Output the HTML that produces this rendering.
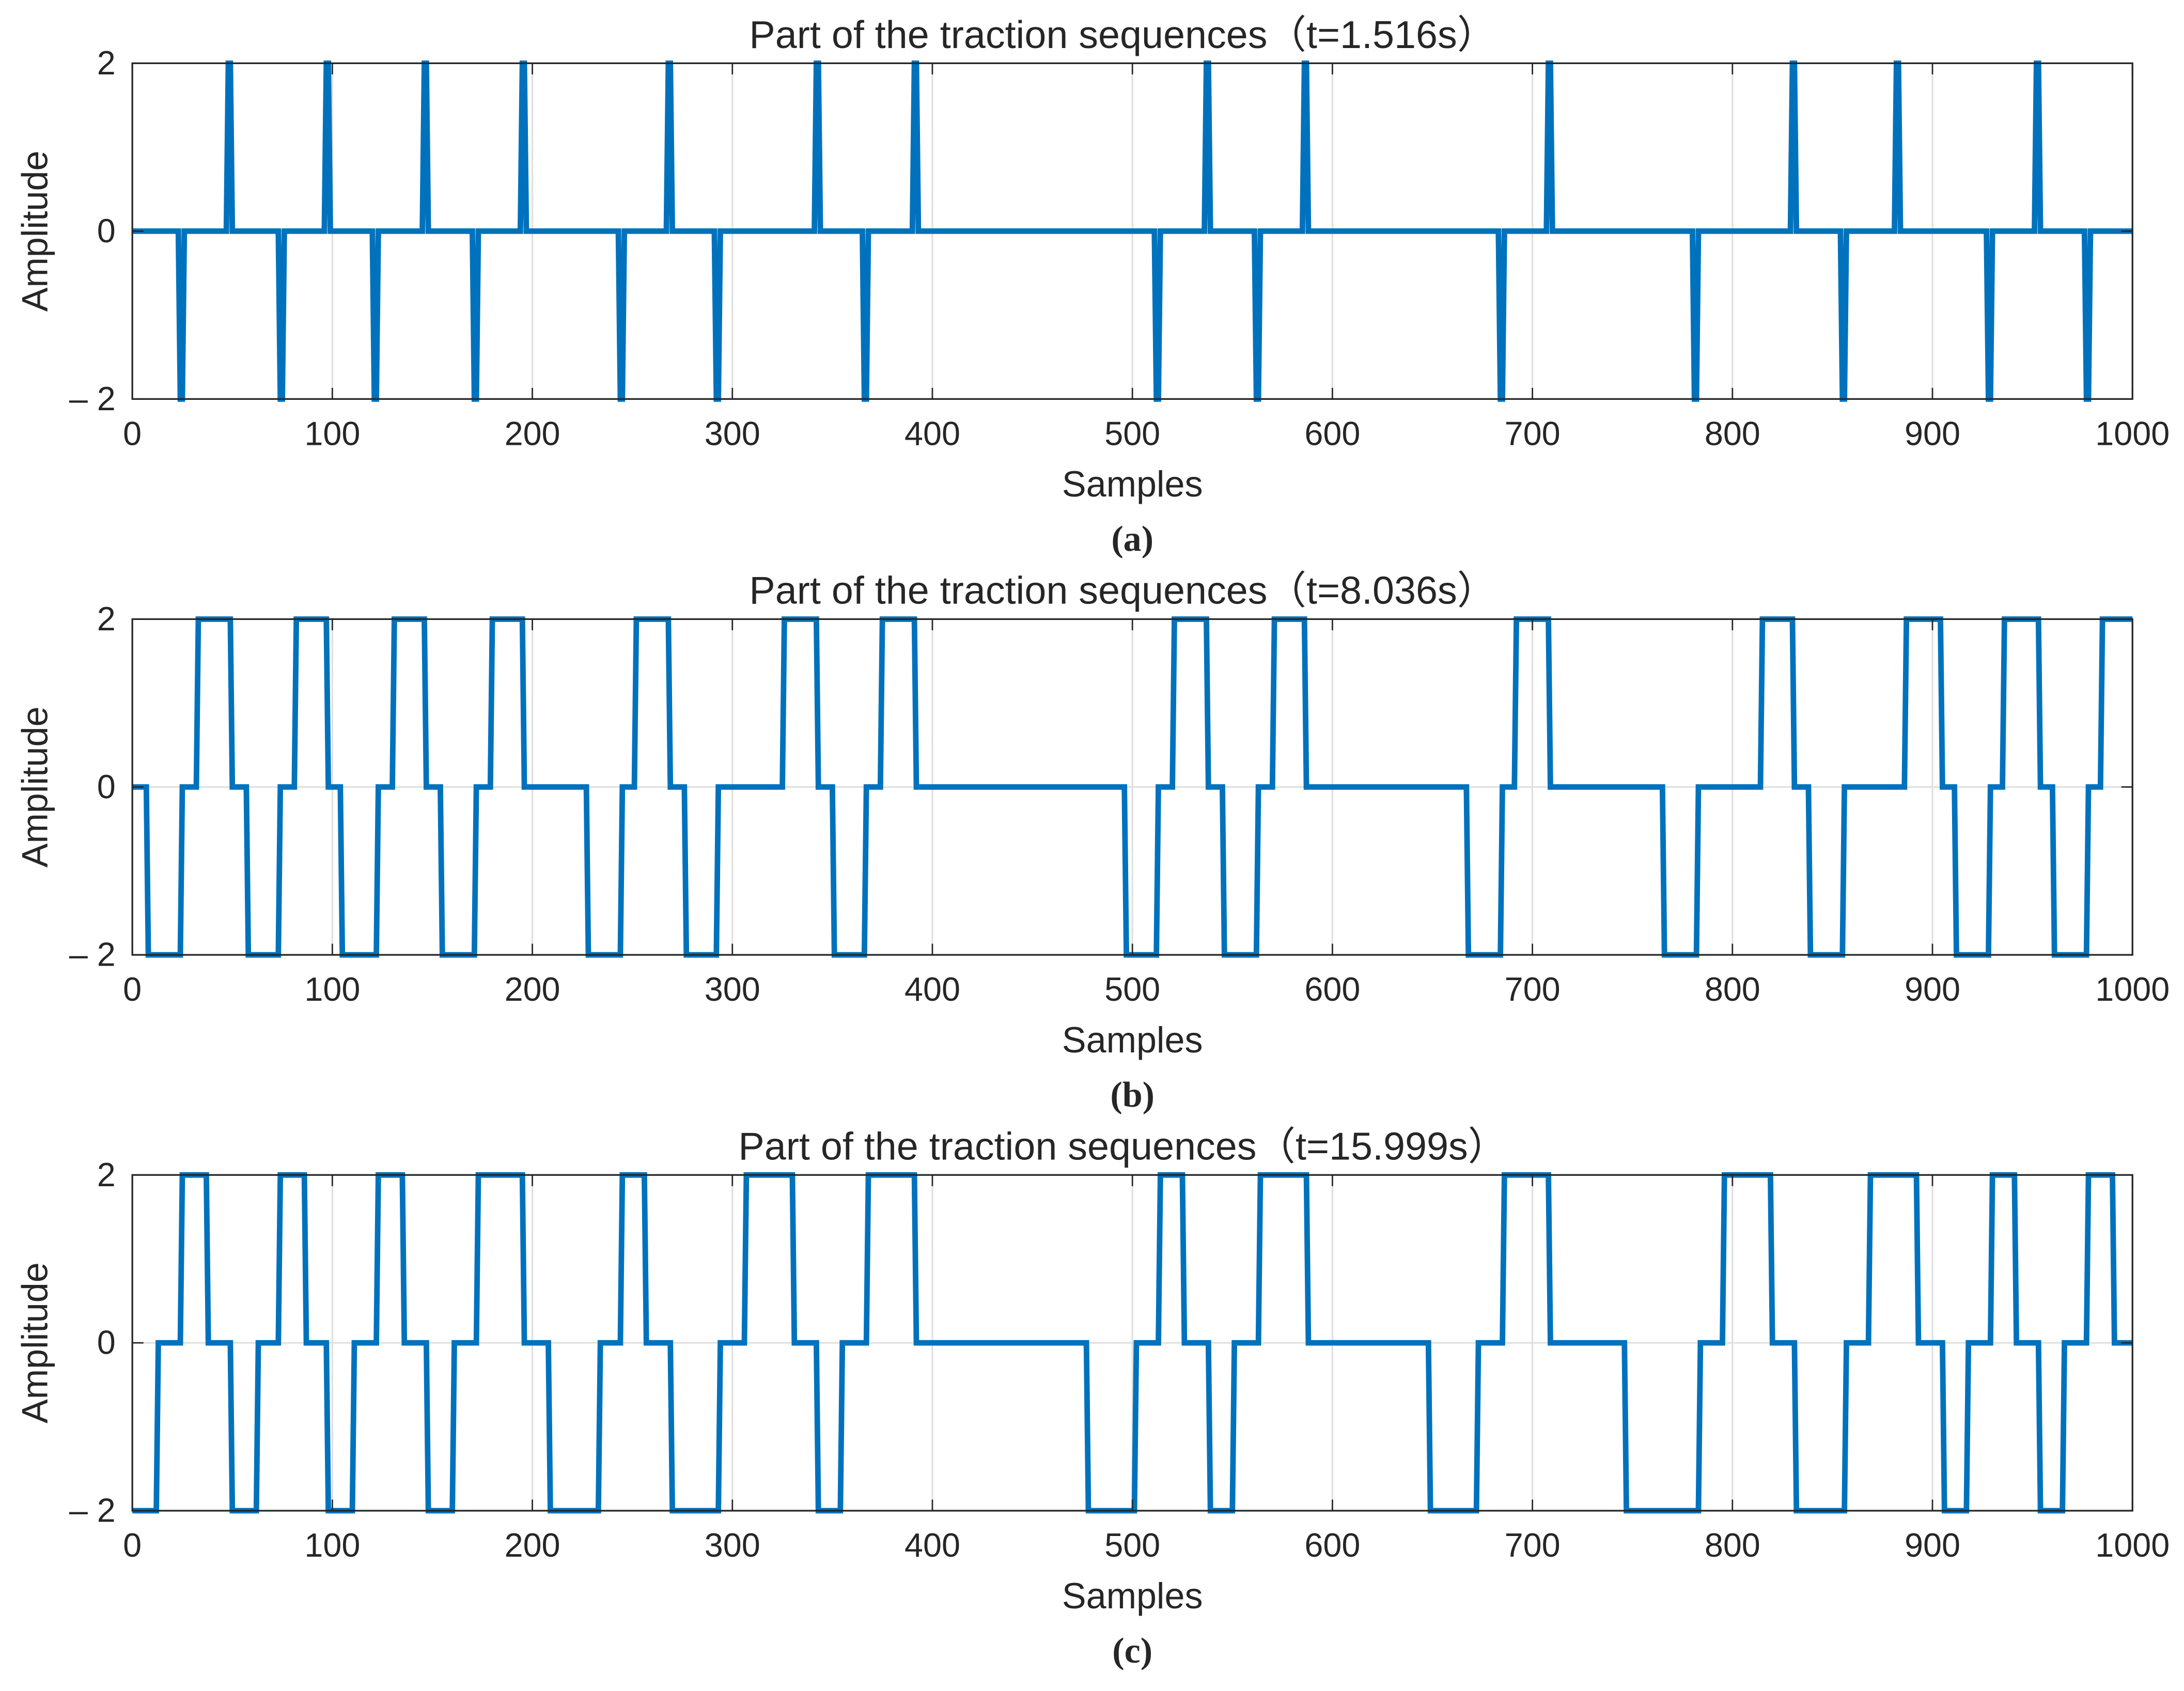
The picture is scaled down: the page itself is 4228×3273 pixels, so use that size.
<!DOCTYPE html>
<html><head><meta charset="utf-8"><style>
html,body{margin:0;padding:0;background:#fff;}
svg{display:block;}
text{fill:#262626;}
</style></head><body>
<svg id="chart" xmlns="http://www.w3.org/2000/svg" width="4228" height="3273" viewBox="0 0 1568 1213"></svg>
<script>
// Panel (a): spike sample positions
const spikeUpA = [48, 97, 146, 195, 268, 342, 391, 537, 586, 708, 830, 882, 952];
const spikeDownA = [24, 74, 121, 171, 244, 292, 366, 512, 562, 684, 781, 855, 928, 977];
// Panel (b): level change samples and levels
const changesB = [0, 7, 24, 32, 49, 57, 73, 81, 97, 104, 122, 130, 146, 154, 171, 179, 195, 227, 244, 251, 268, 276, 292, 325, 342, 350, 366, 374, 391, 496, 512, 520, 537, 545, 562, 570, 586, 667, 684, 691, 708, 765, 782, 814, 830, 838, 855, 886, 904, 911, 928, 935, 953, 960, 977, 984];
const levelsB  = [0, -2, 0, 2, 0, -2, 0, 2, 0, -2, 0, 2, 0, -2, 0, 2, 0, -2, 0, 2, 0, -2, 0, 2, 0, -2, 0, 2, 0, -2, 0, 2, 0, -2, 0, 2, 0, -2, 0, 2, 0, -2, 0, 2, 0, -2, 0, 2, 0, -2, 0, 2, 0, -2, 0, 2];
// Panel (c)
const changesC = [0, 12, 24, 37, 49, 62, 73, 86, 97, 110, 122, 135, 147, 160, 172, 195, 208, 233, 244, 256, 269, 293, 306, 330, 342, 354, 367, 391, 477, 501, 513, 525, 538, 550, 563, 587, 648, 672, 685, 708, 746, 783, 795, 819, 831, 856, 868, 892, 905, 917, 929, 941, 953, 965, 977, 990];
const levelsC  = [-2, 0, 2, 0, -2, 0, 2, 0, -2, 0, 2, 0, -2, 0, 2, 0, -2, 0, 2, 0, -2, 0, 2, 0, -2, 0, 2, 0, -2, 0, 2, 0, -2, 0, 2, 0, -2, 0, 2, 0, -2, 0, 2, 0, -2, 0, 2, 0, -2, 0, 2, 0, -2, 0, 2, 0];
const xTicks = [0,100,200,300,400,500,600,700,800,900,1000];
const yTicks = [-2,0,2];
const titles = ["Part of the traction sequences\uFF08t=1.516s\uFF09","Part of the traction sequences\uFF08t=8.036s\uFF09","Part of the traction sequences\uFF08t=15.999s\uFF09"];
const captions = ["(a)","(b)","(c)"];

const NS="http://www.w3.org/2000/svg";
const svg=document.getElementById('chart');
const SANS='font-family:"Liberation Sans","Noto Sans CJK SC",sans-serif;';
function mk(tag,attrs,parent){const e=document.createElementNS(NS,tag);for(const k in attrs)e.setAttribute(k,attrs[k]);(parent||svg).appendChild(e);return e;}

function spikesToSteps(up,down){
  const ev=[];up.forEach(s=>ev.push([s,2]));down.forEach(s=>ev.push([s,-2]));
  ev.sort((a,b)=>a[0]-b[0]);
  const ch=[0],lv=[0];
  ev.forEach(([s,v])=>{ch.push(s-1);lv.push(v);ch.push(s+1);lv.push(0);});
  return [ch,lv];
}
const stepsA=spikesToSteps(spikeUpA,spikeDownA);
const panels=[{top:45,ch:stepsA[0],lv:stepsA[1]},{top:444,ch:changesB,lv:levelsB},{top:843,ch:changesC,lv:levelsC}];
const X0=95,X1=1531,H=241;
panels.forEach((p,i)=>{
  const g=mk('g',{});
  
  
  const xs=v=>X0+(X1-X0)*v/1000;
  const ys=v=>p.top+H*(2-v)/4;
  xTicks.forEach(t=>{
    const l=mk('line',{x1:xs(t),x2:xs(t),y1:p.top,y2:p.top+H,stroke:'#e0e0e0','stroke-width':1.2},g);
    
    
  });
  yTicks.forEach(t=>{
    const l=mk('line',{x1:X0,x2:X1,y1:ys(t),y2:ys(t),stroke:'#e0e0e0','stroke-width':1.2},g);
    
    
  });
  let d='';
  for(let k=0;k<p.ch.length;k++){
    const x=xs(p.ch[k]),y=ys(p.lv[k]);
    if(k===0)d+='M'+x+' '+y;else d+=' L'+x+' '+ys(p.lv[k-1])+' L'+(xs(p.ch[k]+1))+' '+y;
  }
  d+=' L'+xs(1000)+' '+ys(p.lv[p.lv.length-1]);
  const path=mk('path',{d:d,fill:'none',stroke:'#0072BD','stroke-width':4,'stroke-linejoin':'miter'},g);
  
  
  const box=mk('rect',{x:X0,y:p.top,width:X1-X0,height:H,fill:'none',stroke:'#262626','stroke-width':1.2},g);
  
  
  xTicks.forEach(t=>{
    mk('line',{x1:xs(t),x2:xs(t),y1:p.top+H,y2:p.top+H-8,stroke:'#262626'},g);
    mk('line',{x1:xs(t),x2:xs(t),y1:p.top,y2:p.top+8,stroke:'#262626'},g);
    const tx=mk('text',{x:xs(t),y:p.top+H+33,'text-anchor':'middle',style:SANS+'font-size:24px'},g);
    tx.textContent=t;
    
    
  });
  yTicks.forEach(t=>{
    mk('line',{x1:X0,x2:X0+8,y1:ys(t),y2:ys(t),stroke:'#262626'},g);
    mk('line',{x1:X1,x2:X1-8,y1:ys(t),y2:ys(t),stroke:'#262626'},g);
    const tx=mk('text',{x:X0-12,y:ys(t)+8,'text-anchor':'end',style:SANS+'font-size:24px'},g);
    tx.textContent=t<0?'\u2013 2':String(t);
    
    
  });
  const title=mk('text',{x:806,y:p.top-11,'text-anchor':'middle',style:SANS+'font-size:28px'},g);
  title.textContent=titles[i];
  
  
  const xl=mk('text',{x:(X0+X1)/2,y:p.top+H+70,'text-anchor':'middle',style:SANS+'font-size:26px'},g);
  xl.textContent='Samples';
  
  
  const yl=mk('text',{x:0,y:0,'text-anchor':'middle',style:SANS+'font-size:26px',transform:'translate(34,'+(p.top+H/2)+') rotate(-90)'},g);
  yl.textContent='Amplitude';
  
  
  const cap=mk('text',{x:(X0+X1)/2,y:p.top+H+109,'text-anchor':'middle',style:'font-family:"Liberation Serif",serif;font-size:26px;font-weight:bold'},g);
  cap.textContent=captions[i];
  
  
});
</script>
</body></html>
